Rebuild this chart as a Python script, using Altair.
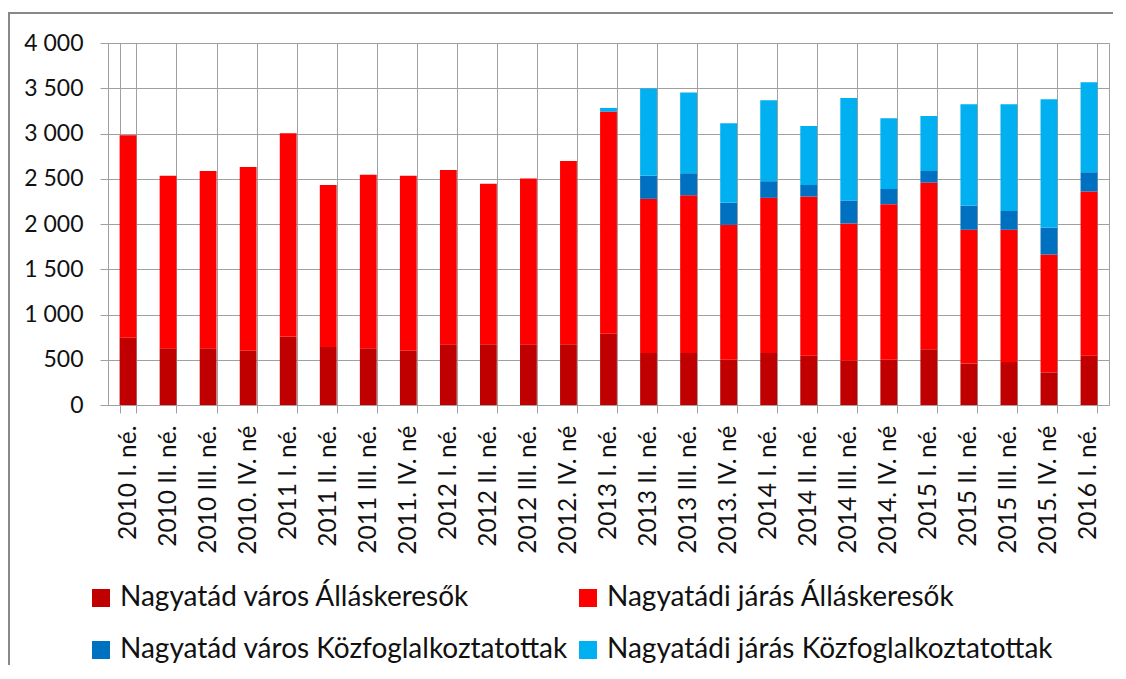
import altair as alt
import pandas as pd

categories = [
    "2010 I. né.", "2010 II. né.", "2010 III. né.", "2010. IV. né",
    "2011 I. né.", "2011 II. né.", "2011 III. né.", "2011. IV. né",
    "2012 I. né.", "2012 II. né.", "2012 III. né.", "2012. IV. né",
    "2013 I. né.", "2013 II. né.", "2013 III. né.", "2013. IV. né",
    "2014 I. né.", "2014 II. né.", "2014 III. né.", "2014. IV. né",
    "2015 I. né.", "2015 II. né.", "2015 III. né.", "2015. IV. né",
    "2016 I. né.",
]

series_names = [
    "Nagyatád város Álláskeresők",
    "Nagyatádi járás Álláskeresők",
    "Nagyatád város Közfoglalkoztatottak",
    "Nagyatádi járás Közfoglalkoztatottak",
]
series_colors = ["#C00000", "#FF0000", "#0070C0", "#00B0F0"]

city_seekers = [743, 626, 626, 600, 758, 640, 626, 600, 670, 670, 670, 670, 788,
                574, 574, 500, 574, 545, 489, 500, 615, 460, 475, 361, 545]
district_seekers = [2238, 1906, 1961, 2031, 2245, 1792, 1917, 1932, 1928, 1774, 1832, 2027, 2454,
                    1704, 1744, 1491, 1715, 1759, 1517, 1719, 1843, 1476, 1461, 1302, 1814]
city_public = [0, 0, 0, 0, 0, 0, 0, 0, 0, 0, 0, 0, 0,
               254, 243, 243, 184, 128, 254, 169, 129, 268, 209, 298, 213]
district_public = [0, 0, 0, 0, 0, 0, 0, 0, 0, 0, 0, 0, 41,
                   964, 891, 879, 894, 652, 1133, 780, 607, 1119, 1178, 1417, 994]

y_ticks = [0, 500, 1000, 1500, 2000, 2500, 3000, 3500, 4000]

rows = []
for si, (name, vals) in enumerate(zip(series_names,
                                      [city_seekers, district_seekers, city_public, district_public])):
    for c, v in zip(categories, vals):
        rows.append({"cat": c, "series": name, "value": v, "ord": si})
df = pd.DataFrame(rows)

FONT = "Lato"
GRID = "#a0a0a0"

bars = alt.Chart(df).transform_filter("datum.value > 0").mark_bar().encode(
    x=alt.X("cat:N", sort=categories,
            scale=alt.Scale(paddingInner=0.58, paddingOuter=0.29),
            axis=alt.Axis(title=None, labelAngle=270, tickBand="extent", grid=True,
                          gridColor=GRID, domainColor=GRID, tickColor=GRID,
                          tickSize=8, labelPadding=12, labelFont=FONT, labelFontSize=24.5,
                          labelColor="#111111", labelLimit=300)),
    y=alt.Y("value:Q", stack="zero",
            scale=alt.Scale(domain=[0, 4000], nice=False),
            axis=alt.Axis(title=None, values=y_ticks, grid=True, gridColor=GRID,
                          domainColor=GRID, tickColor=GRID, tickSize=8, labelPadding=17,
                          labelFont=FONT, labelFontSize=23, labelColor="#111111",
                          labelExpr="replace(format(datum.value, ','), ',', ' ')")),
    color=alt.Color("series:N", sort=series_names,
                    scale=alt.Scale(domain=series_names, range=series_colors),
                    legend=alt.Legend(title=None, orient="none", legendX=-21, legendY=541,
                                      direction="horizontal",
                                      columns=2, symbolType="square", symbolSize=324,
                                      symbolStrokeWidth=0, labelFont=FONT, labelFontSize=28,
                                      labelColor="#111111", labelOffset=5, rowPadding=24,
                                      columnPadding=6, padding=0, labelLimit=700)),
    order=alt.Order("ord:Q", sort="ascending"),
)

frame_df = pd.DataFrame({"a": [0]})
frame_top = alt.Chart(frame_df).mark_rule(color="#888888", strokeWidth=2).encode(
    x=alt.value(-100), x2=alt.value(1010), y=alt.value(-30))
frame_left = alt.Chart(frame_df).mark_rule(color="#888888", strokeWidth=2).encode(
    x=alt.value(-99), y=alt.value(-30), y2=alt.value(630))

chart = alt.layer(bars, frame_top, frame_left).properties(
    width=1001, height=362,
    autosize=alt.AutoSizeParams(type="none"),
    padding={"left": 100, "top": 35, "right": 4, "bottom": 260},
).configure_view(stroke=GRID)

chart.save("out.html", embed_options={"renderer": "svg", "actions": False})
